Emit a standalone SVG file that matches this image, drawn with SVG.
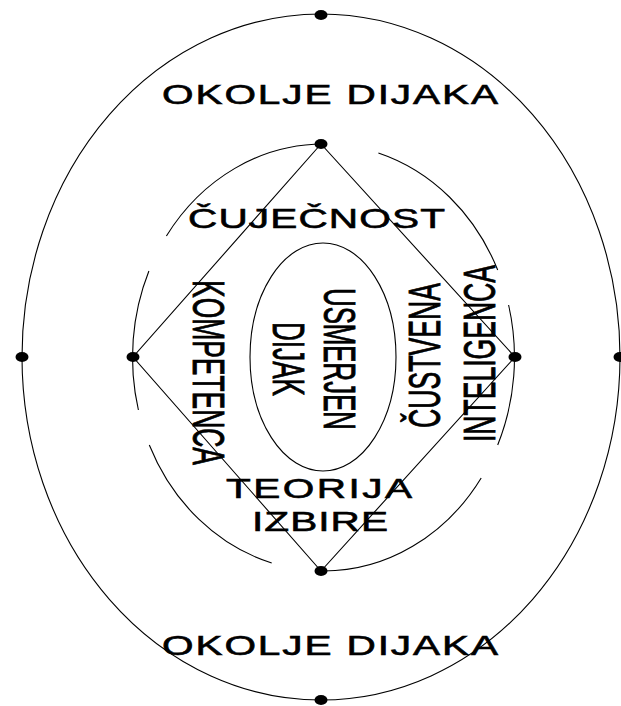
<svg xmlns="http://www.w3.org/2000/svg" width="621" height="706" viewBox="0 0 621 706">
<style>
.ln{fill:none;stroke:#000;stroke-width:1.1}
.dot{fill:#000}
.h{font-family:"Liberation Sans",Arial,sans-serif;font-size:28px;fill:#000;stroke:#000;stroke-width:0.6}
.v{font-family:"Liberation Sans",Arial,sans-serif;font-size:44.7px;fill:#000;stroke:#000;stroke-width:0.9}
</style>
<rect width="621" height="706" fill="#fff"/>
<g id="outer-ring">
<ellipse class="ln" cx="321" cy="357" rx="299" ry="343"/>
<ellipse class="dot" cx="321" cy="15" rx="6.5" ry="5"/>
<ellipse class="dot" cx="321" cy="700" rx="6.5" ry="5"/>
<ellipse class="dot" cx="22" cy="357" rx="6.5" ry="5"/>
<ellipse class="dot" cx="620" cy="357" rx="6.5" ry="5"/>
</g>
<g id="okolje-top"><text class="h" transform="translate(162,104) scale(1.45,1)" textLength="231.7" lengthAdjust="spacing">OKOLJE DIJAKA</text></g>
<g id="okolje-bottom"><text class="h" transform="translate(162,655) scale(1.45,1)" textLength="231.7" lengthAdjust="spacing">OKOLJE DIJAKA</text></g>
<g id="middle-ring">
<path class="ln" d="M323.5 144 A191 213.5 0 0 0 166.4 236"/>
<path class="ln" d="M378.4 153 A191 213.5 0 0 1 497.7 270"/>
<path class="ln" d="M148.9 271 A191 213.5 0 0 0 138.4 410"/>
<path class="ln" d="M149.3 445 A191 213.5 0 0 0 271.7 563"/>
<path class="ln" d="M508.6 305 A191 213.5 0 0 1 497.7 445"/>
<path class="ln" d="M481.2 478 A191 213.5 0 0 1 323.5 571"/>
</g>
<g id="connectors">
<path class="ln" d="M321 144 L133 357 L321 571 L515 357 Z"/>
</g>
<g id="diamond-points">
<ellipse class="dot" cx="321" cy="144" rx="6.5" ry="5"/>
<ellipse class="dot" cx="133" cy="357" rx="6.5" ry="5"/>
<ellipse class="dot" cx="515" cy="357" rx="6.5" ry="5"/>
<ellipse class="dot" cx="321" cy="571" rx="6.5" ry="5"/>
</g>
<g id="cujecnost"><text class="h" transform="translate(188,228) scale(1.45,1)" textLength="177.2" lengthAdjust="spacing">ČUJEČNOST</text></g>
<g id="teorija-izbire">
<text class="h" transform="translate(226,498) scale(1.45,1)" textLength="128.3" lengthAdjust="spacing">TEORIJA</text>
<text class="h" transform="translate(252,531) scale(1.45,1)" textLength="93.8" lengthAdjust="spacing">IZBIRE</text>
</g>
<g id="kompetenca"><text class="v" transform="translate(193,280) rotate(90)" textLength="185" lengthAdjust="spacingAndGlyphs">KOMPETENCA</text></g>
<g id="custvena-inteligenca">
<text class="v" transform="translate(440,428) rotate(-90)" textLength="145" lengthAdjust="spacingAndGlyphs">ČUSTVENA</text>
<text class="v" transform="translate(495,442) rotate(-90)" textLength="177" lengthAdjust="spacingAndGlyphs">INTELIGENCA</text>
</g>
<g id="usmerjen-dijak">
<ellipse class="ln" cx="323" cy="357" rx="73" ry="114"/>
<text class="v" transform="translate(324,288) rotate(90)" textLength="142" lengthAdjust="spacingAndGlyphs">USMERJEN</text>
<text class="v" transform="translate(273,322) rotate(90)" textLength="74" lengthAdjust="spacingAndGlyphs">DIJAK</text>
</g>
</svg>
